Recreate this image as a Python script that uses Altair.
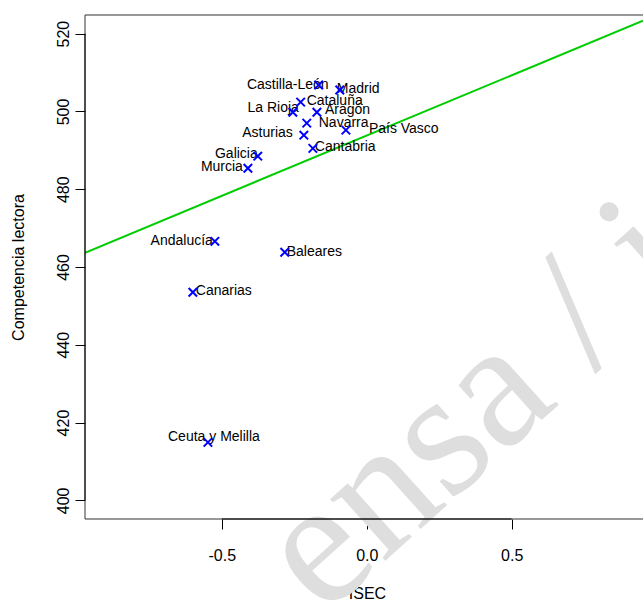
import altair as alt
import pandas as pd

# Reading competence vs. socio-economic index (ISEC) by Spanish region
regions = ["Castilla-León", "Madrid", "Cataluña", "La Rioja", "Aragón", "Navarra",
           "País Vasco", "Asturias", "Cantabria", "Galicia", "Murcia", "Andalucía",
           "Baleares", "Canarias", "Ceuta y Melilla"]
isec = [-0.166, -0.093, -0.228, -0.255, -0.172, -0.207, -0.072, -0.217, -0.186,
        -0.376, -0.410, -0.524, -0.283, -0.600, -0.548]
lectura = [506.8, 505.5, 502.4, 499.8, 499.8, 497.0, 495.2, 493.9, 490.5,
           488.5, 485.4, 466.6, 463.8, 453.5, 414.9]

# fitted regression line
intercept = 493.8
slope = 31.0

x_ticks = [-0.5, 0.0, 0.5]
y_ticks = [400, 420, 440, 460, 480, 500, 520]

# label placement next to each marker (pixels)
label_align = ["right", "left", "left", "right", "left", "left", "left", "right",
               "left", "right", "right", "right", "left", "left", "center"]
label_dx = [10, -3, 6, 6, 8, 12, 23, -11, 2, 0, -5, -2, 2, 3, 6]
label_dy = [0, -1, -1, -4, -2, 0, -1, -2, -1, -2, -1, 0, 0, -1, -5]

watermark = "ensa / i"

X_DOMAIN = [-0.972, 0.953]
Y_DOMAIN = [395.2, 524.8]
W, H = 558, 504
FONT = "Liberation Sans"

points = pd.DataFrame({"region": regions, "isec": isec, "lectura": lectura})
line_x = [X_DOMAIN[0], X_DOMAIN[1]]
fit = pd.DataFrame({"isec": line_x, "lectura": [intercept + slope * v for v in line_x]})

x_axis = alt.Axis(values=x_ticks, domain=False, grid=False, tickColor="black",
                  tickSize=10, tickWidth=1, labelFont=FONT, labelFontSize=16,
                  labelColor="black", labelPadding=18, labelFlush=False,
                  labelExpr="(datum.value < 0 ? '-' : '') + format(abs(datum.value), '.1f')",
                  title="ISEC", titleFont=FONT, titleFontSize=16,
                  titleFontWeight="normal", titleColor="black",
                  titleX=282, titleY=74, titleBaseline="middle", titleAlign="center")
y_axis = alt.Axis(values=y_ticks, domain=False, grid=False, tickColor="black",
                  tickSize=10, tickWidth=1, labelFont=FONT, labelFontSize=16,
                  labelColor="black", labelAngle=270, labelAlign="center",
                  labelBaseline="bottom", labelPadding=4, labelFlush=False,
                  title="Competencia lectora", titleFont=FONT, titleFontSize=16,
                  titleFontWeight="normal", titleColor="black", titleAngle=270,
                  titleX=-67, titleY=252, titleBaseline="middle", titleAlign="center")

xs = alt.Scale(domain=X_DOMAIN, nice=False, zero=False)
ys = alt.Scale(domain=Y_DOMAIN, nice=False, zero=False)


def X(field="isec"):
    return alt.X(f"{field}:Q", scale=xs, axis=x_axis)


def Y(field="lectura"):
    return alt.Y(f"{field}:Q", scale=ys, axis=y_axis)


# faint diagonal watermark text behind the plot
mark_bg = alt.Chart(pd.DataFrame({"t": [watermark]})).mark_text(
    font="Liberation Serif", fontSize=180, angle=318, align="left",
    baseline="alphabetic", color="#dedede"
).encode(x=alt.value(238), y=alt.value(602), text="t:N")

# plot frame (left, top, bottom) and the axis lines between the outer ticks
frame_h = pd.DataFrame({"isec": [X_DOMAIN[0]] * 2, "isec2": [X_DOMAIN[1]] * 2,
                        "lectura": [Y_DOMAIN[0], Y_DOMAIN[1]]})
frame_v = pd.DataFrame({"isec": [X_DOMAIN[0]], "lectura": [Y_DOMAIN[0]],
                        "lectura2": [Y_DOMAIN[1]]})
axis_h = pd.DataFrame({"isec": [x_ticks[0]], "isec2": [x_ticks[-1]], "lectura": [Y_DOMAIN[0]]})
axis_v = pd.DataFrame({"isec": [X_DOMAIN[0]], "lectura": [y_ticks[0]], "lectura2": [y_ticks[-1]]})

frame1 = alt.Chart(frame_h).mark_rule(color="#333333", strokeWidth=1).encode(
    x=X(), x2="isec2:Q", y=Y())
frame2 = alt.Chart(frame_v).mark_rule(color="#333333", strokeWidth=1).encode(
    x=X(), y=Y(), y2="lectura2:Q")
axis1 = alt.Chart(axis_h).mark_rule(color="black", strokeWidth=1).encode(
    x=X(), x2="isec2:Q", y=Y())
axis2 = alt.Chart(axis_v).mark_rule(color="black", strokeWidth=1).encode(
    x=X(), y=Y(), y2="lectura2:Q")

reg_line = alt.Chart(fit).mark_line(color="#00CD00", strokeWidth=2, clip=True).encode(
    x=X(), y=Y())

cross = "M-1,-1L1,1M1,-1L-1,1"
markers = alt.Chart(points).mark_point(
    shape=cross, size=72, strokeWidth=2, color="#0000FF", filled=False, opacity=1
).encode(x=X(), y=Y())

labels = []
for i, name in enumerate(regions):
    labels.append(
        alt.Chart(points.iloc[[i]]).mark_text(
            align=label_align[i], dx=label_dx[i], dy=label_dy[i], baseline="middle",
            font=FONT, fontSize=14, color="black"
        ).encode(x=X(), y=Y(), text="region:N")
    )

chart = alt.layer(mark_bg, reg_line, *labels, markers, frame1, frame2, axis1, axis2).properties(
    width=W, height=H, autosize="none",
    padding={"left": 85, "top": 15, "right": 0, "bottom": 81},
    background="white",
).configure_view(stroke=None)

chart.save("out.html", embed_options={"renderer": "svg", "actions": False})
